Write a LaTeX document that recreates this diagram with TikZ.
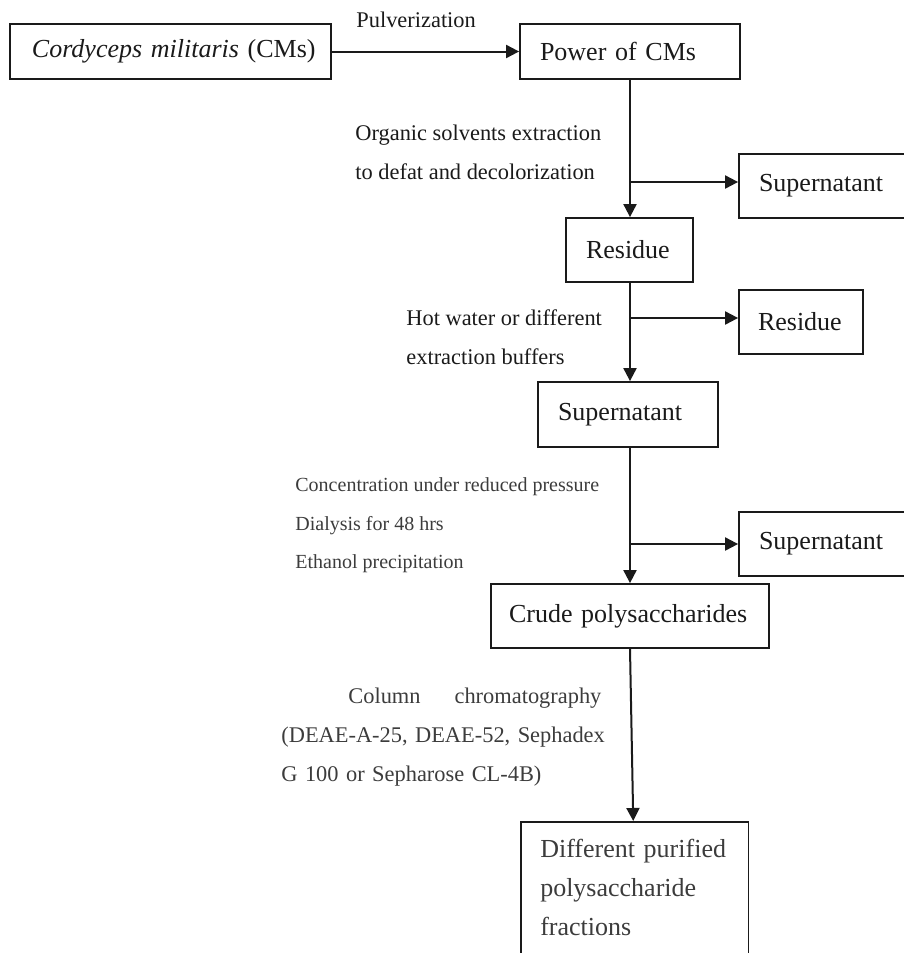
\documentclass[tikz,border=0pt]{standalone}
\usepackage{fontspec}
\setmainfont{Liberation Serif}
\usetikzlibrary{arrows.meta,calc}
\definecolor{ink}{HTML}{1A1A1A}
\definecolor{soft}{HTML}{3C3C3C}
\tikzset{
  boxnode/.style={draw=ink, line width=0.9pt, inner ysep=0pt, align=left,
    font=\fontsize{13}{19.5}\selectfont, text=ink},
  lbl/.style={align=left, font=\fontsize{11.2}{19.5}\selectfont, text=ink, inner sep=0pt},
  lblgray/.style={align=left, text=soft, inner sep=0pt},
  conn/.style={draw=ink, line width=1pt, -{Triangle[length=6.5pt,width=6.5pt]}}
}
\begin{document}
\begin{tikzpicture}[x=0.5pt,y=-0.5pt]
\useasboundingbox (0,0) rectangle (904,953);
% boxes
\node[boxnode, minimum width=160.5pt, minimum height=27.5pt, text width=140.5pt, inner xsep=10pt] (cm) at (170.5,51.5) {\hspace*{1pt}\mbox{\textit{Cordyceps militaris} (CMs)}};
\node[boxnode, minimum width=110pt, minimum height=27.5pt, text width=90pt, inner xsep=10pt] (pow) at (630,51.5) {Power of CMs};
\node[boxnode, minimum width=83.5pt, minimum height=32pt, text width=63.5pt, inner xsep=10pt] (sup1) at (822.5,186) {Supernatant};
\node[boxnode, minimum width=63.5pt, minimum height=32pt, text width=43.5pt, inner xsep=10pt] (res1) at (629.5,250) {Residue};
\node[boxnode, minimum width=62pt, minimum height=32pt, text width=43pt, inner xsep=9.5pt] (res2) at (801,322) {Residue};
\node[boxnode, minimum width=90pt, minimum height=32.5pt, text width=70pt, inner xsep=10pt] (sup2) at (628,414.5) {Supernatant};
\node[boxnode, minimum width=83.5pt, minimum height=32pt, text width=63.5pt, inner xsep=10pt] (sup3) at (822.5,544) {Supernatant};
\node[boxnode, minimum width=139pt, minimum height=32pt, text width=121pt, inner xsep=9pt] (crude) at (630,616) {Crude polysaccharides};
\node[boxnode, anchor=north, text=soft, minimum width=113.75pt, text width=94.5pt, inner xsep=9.625pt, inner ysep=8.5pt] (diff) at (634.75,821)
  {\makebox[94.5pt][s]{Different purified}\\ polysaccharide\\ fractions\strut};
% labels
\node[lbl, anchor=west] (pulv) at (356,20) {Pulverization};
\node[lbl, anchor=west] (org) at (355,152.5) {Organic solvents extraction\\ to defat and decolorization};
\node[lbl, anchor=west] (hot) at (406,337.5) {Hot water or different\\ extraction buffers};
\node[lblgray, anchor=west, font=\fontsize{10}{19.25}\selectfont] (conc) at (295,525.5) {Concentration under reduced pressure\\ Dialysis for 48 hrs\\ Ethanol precipitation};
\node[lblgray, anchor=west, font=\fontsize{11.2}{19.5}\selectfont, text width=160pt] (col) at (281,737)
  {\hspace*{33.5pt}Column\hfill chromatography\\ \mbox{(DEAE-A-25, DEAE-52, Sephadex}\\ G 100 or Sepharose CL-4B)};
% branch points
\coordinate (b1) at (630,182);
\coordinate (b2) at (630,318);
\coordinate (b3) at (630,544);
% connectors
\draw[conn] (cm.east) -- (pow.west);
\draw[conn] (pow.south) -- (pow.south |- res1.north);
\draw[conn] (b1) -- (b1 -| sup1.west);
\draw[conn] (pow.south |- res1.south) -- (pow.south |- sup2.north);
\draw[conn] (b2) -- (b2 -| res2.west);
\draw[conn] (pow.south |- sup2.south) -- (pow.south |- crude.north);
\draw[conn] (b3) -- (b3 -| sup3.west);
\draw[conn] (crude.south) -- ($(diff.north)+(-1.5,0)$);
\end{tikzpicture}
\end{document}
